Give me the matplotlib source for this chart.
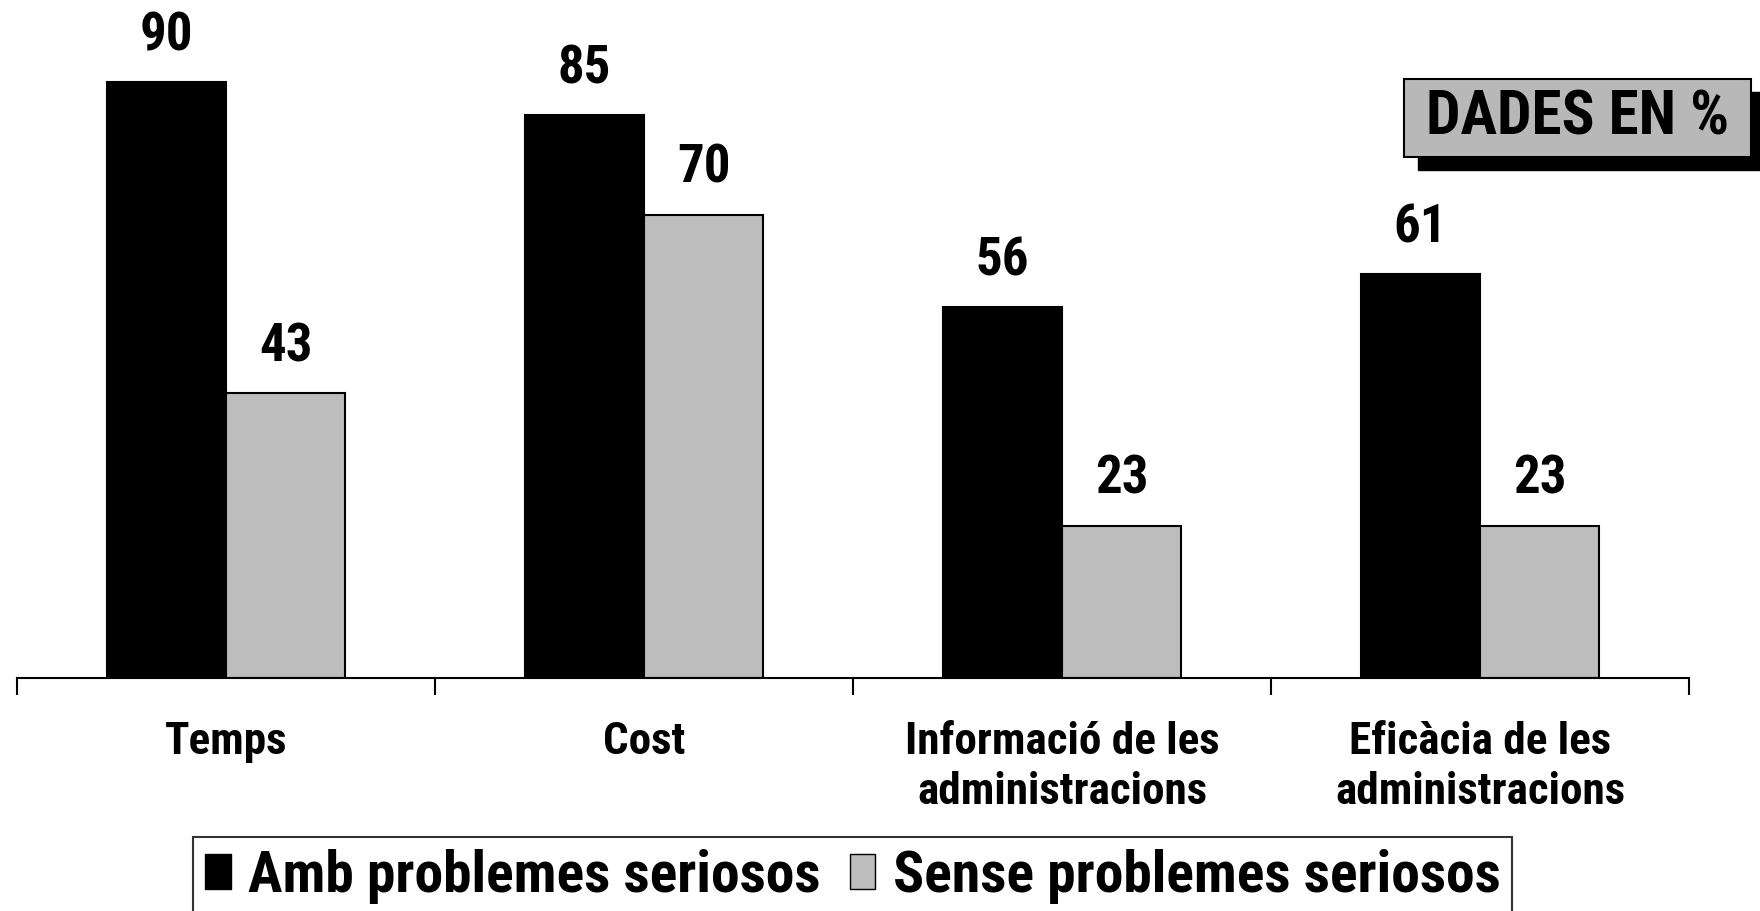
import numpy as np
import matplotlib
matplotlib.use("Agg")
import matplotlib.pyplot as plt
from matplotlib import font_manager
from matplotlib.patches import Rectangle, Patch

# prefer a narrow bold sans, fall back to Liberation Sans
narrow = None
for fam in ["Liberation Sans Narrow", "Roboto Condensed", "Arial Narrow"]:
    try:
        font_manager.findfont(font_manager.FontProperties(family=fam), fallback_to_default=False)
        narrow = fam
        break
    except ValueError:
        pass
plt.rcParams['font.family'] = ([narrow] if narrow else []) + ['Liberation Sans', 'DejaVu Sans']
plt.rcParams['font.weight'] = 'bold'
k = 1.0 if narrow else 0.88   # wider fallback font gets a smaller size

categories = ["Temps", "Cost", "Informació de les\nadministracions", "Eficàcia de les\nadministracions"]
amb = [90, 85, 56, 61]
sense = [43, 70, 23, 23]
series_names = ["Amb problemes seriosos", "Sense problemes seriosos"]

col_dark = "black"
col_light = "#bdbdbd"

fig = plt.figure(figsize=(17.6, 9.11), dpi=100)
ax = fig.add_axes([0.0097, 0.2558, 0.95, 0.7442])

x = np.arange(len(categories)) + 0.5
w = 0.285
b1 = ax.bar(x - w/2, amb, w, color=col_dark, edgecolor="black", lw=1.5)
b2 = ax.bar(x + w/2, sense, w, color=col_light, edgecolor="black", lw=1.5)
ax.bar_label(b1, fmt="%d", padding=15, fontsize=38*k, fontweight="bold")
ax.bar_label(b2, fmt="%d", padding=15, fontsize=38*k, fontweight="bold")

ax.set_xlim(0, len(categories))
ax.set_ylim(0, 102.4)

# ticks at group borders, labels at group centres
ax.set_xticks(np.arange(len(categories) + 1))
ax.set_xticklabels([])
ax.set_xticks(x, minor=True)
ax.set_xticklabels(categories, minor=True, fontsize=32.5*k, fontweight="bold", linespacing=1.25)
ax.tick_params(axis="x", which="major", direction="out", length=12, width=1.5)
ax.tick_params(axis="x", which="minor", length=0, pad=31)
ax.set_yticks([])
for s in ["left", "right", "top"]:
    ax.spines[s].set_visible(False)
ax.spines["bottom"].set_linewidth(1.5)

handles = [Patch(facecolor=col_dark, edgecolor="black"),
           Patch(facecolor=col_light, edgecolor="black")]
leg = fig.legend(handles, series_names, ncol=2, loc="lower center",
                 bbox_to_anchor=(0.4845, -0.005), fontsize=41.5*k, frameon=True,
                 fancybox=False, edgecolor="black", handlelength=0.45,
                 handleheight=0.55, handletextpad=0.3, columnspacing=0.5,
                 borderpad=0.2, borderaxespad=0)
leg.get_frame().set_linewidth(1.5)

# "DADES EN %" badge with drop shadow
bx, by, bw, bh = 0.798, 0.828, 0.197, 0.0856
fig.patches.append(Rectangle((bx + 0.0074, by - 0.0143), bw, bh, transform=fig.transFigure,
                             facecolor="black", edgecolor="black", zorder=1))
fig.patches.append(Rectangle((bx, by), bw, bh, transform=fig.transFigure,
                             facecolor="#b8b8b8", edgecolor="black", lw=1.5, zorder=2))
fig.text(bx + bw/2, by + bh/2, "DADES EN %", ha="center", va="center",
         fontsize=44*k, fontweight="bold", zorder=3)

fig.savefig("out.png", dpi=100)
